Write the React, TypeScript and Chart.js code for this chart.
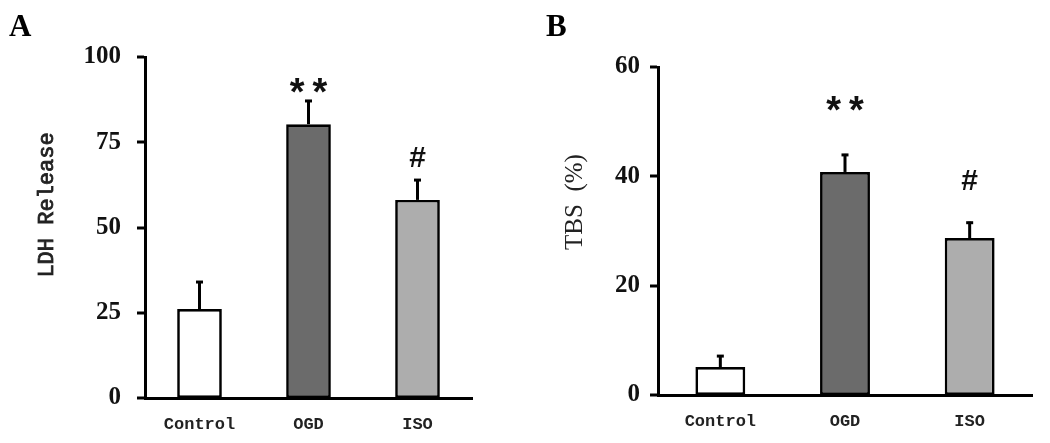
import React, { useEffect, useRef } from "react";
import { Chart, registerables } from "chart.js";
Chart.register(...registerables);

// ---- data ----
const categories = ["Control", "OGD", "ISO"];

const ldhMeans = [26.1, 80.3, 58.1];
const ldhErrors = [8.2, 7.1, 6.1];
const ldhMarks = ["", "**", "#"];
const ldhMarkLevels = [0, 91.7, 70.7];
const ldhTicks = [0, 25, 50, 75, 100];

const tbsMeans = [5.1, 40.8, 28.7];
const tbsErrors = [2.2, 3.3, 3.0];
const tbsMarks = ["", "**", "#"];
const tbsMarkLevels = [0, 53.4, 39.3];
const tbsTicks = [0, 20, 40, 60];

const barColors = ["#ffffff", "#6b6b6b", "#adadad"];

function fillCentered(ctx: CanvasRenderingContext2D, text: string, x: number, y: number) {
  ctx.textAlign = "center";
  ctx.textBaseline = "alphabetic";
  const m = ctx.measureText(text);
  const asc = m.actualBoundingBoxAscent;
  const desc = m.actualBoundingBoxDescent;
  ctx.fillText(text, x, y + (asc - desc) / 2);
}

const decorPlugin = {
  id: "panelDecor",
  afterDatasetsDraw(chart: any, _args: any, opts: any) {
    const ctx = chart.ctx;
    const meta = chart.getDatasetMeta(0);
    const ys = chart.scales.y;
    const ds = chart.data.datasets[0];
    ctx.save();
    // error bars
    ctx.strokeStyle = "#000";
    ctx.lineWidth = 3;
    ctx.lineCap = "butt";
    meta.data.forEach((bar: any, i: number) => {
      const v = ds.data[i] as number;
      const e = opts.errors[i];
      const y0 = ys.getPixelForValue(v);
      const y1 = ys.getPixelForValue(v + e);
      ctx.beginPath();
      ctx.moveTo(bar.x, y0);
      ctx.lineTo(bar.x, y1);
      ctx.stroke();
      ctx.beginPath();
      ctx.moveTo(bar.x - 3.5, y1 + 1);
      ctx.lineTo(bar.x + 3.5, y1 + 1);
      ctx.stroke();
    });
    // significance marks
    ctx.fillStyle = "#111";
    meta.data.forEach((bar: any, i: number) => {
      const m = opts.marks[i];
      if (!m) return;
      const y = ys.getPixelForValue(opts.markLevels[i]);
      if (m === "#") {
        ctx.font = "bold 30px 'Liberation Sans'";
      } else {
        ctx.font = "bold 38px 'Liberation Mono'";
      }
      fillCentered(ctx, m, bar.x, y);
    });
    ctx.restore();
  },
  afterDraw(chart: any, _args: any, opts: any) {
    const ctx = chart.ctx;
    ctx.save();
    // panel letter
    ctx.fillStyle = "#000";
    ctx.textAlign = "left";
    ctx.textBaseline = "alphabetic";
    ctx.font = "bold 31px 'Liberation Serif'";
    ctx.fillText(opts.letter, opts.letterX, opts.letterY);
    // y axis title
    ctx.translate(opts.titleX, opts.titleY);
    ctx.rotate(-Math.PI / 2);
    ctx.textAlign = "center";
    ctx.textBaseline = "middle";
    ctx.fillStyle = "#222";
    ctx.strokeStyle = "#222";
    ctx.lineWidth = opts.titleStroke;
    ctx.font = opts.titleFont;
    ctx.fillText(opts.title, 0, 0);
    if (opts.titleStroke > 0) ctx.strokeText(opts.title, 0, 0);
    ctx.restore();
  },
};

function makeConfig(p: {
  means: number[];
  errors: number[];
  marks: string[];
  markLevels: number[];
  ticks: number[];
  max: number;
  padTop: number;
  padRight: number;
  yWidth: number;
  xHeight: number;
  tickPad: number;
  barPct: number;
  letter: string;
  letterX: number;
  letterY: number;
  title: string;
  titleX: number;
  titleY: number;
  titleFont: string;
  titleStroke: number;
}): any {
  return {
    type: "bar",
    data: {
      labels: categories,
      datasets: [
        {
          data: p.means,
          backgroundColor: barColors,
          borderColor: "#000",
          borderWidth: 2.7,
          borderSkipped: false,
          barPercentage: p.barPct,
          categoryPercentage: 1,
        },
      ],
    },
    plugins: [decorPlugin],
    options: {
      animation: false,
      responsive: false,
      devicePixelRatio: 1,
      layout: { padding: { left: 0, top: p.padTop, right: p.padRight, bottom: 0 } },
      plugins: {
        legend: { display: false },
        tooltip: { enabled: false },
        title: { display: false },
        panelDecor: {
          errors: p.errors,
          marks: p.marks,
          markLevels: p.markLevels,
          letter: p.letter,
          letterX: p.letterX,
          letterY: p.letterY,
          title: p.title,
          titleX: p.titleX,
          titleY: p.titleY,
          titleFont: p.titleFont,
          titleStroke: p.titleStroke,
        },
      },
      scales: {
        x: {
          type: "category",
          grid: { display: false, drawTicks: false },
          border: { display: true, color: "#000", width: 3 },
          ticks: {
            color: "#222",
            font: { family: "'Liberation Mono'", size: 17, weight: "bold" },
            padding: 17,
            maxRotation: 0,
          },
          afterFit: (s: any) => {
            s.height = p.xHeight;
          },
        },
        y: {
          min: 0,
          max: p.max,
          grid: {
            drawOnChartArea: false,
            drawTicks: true,
            tickLength: 8,
            color: "rgba(0,0,0,0)",
            lineWidth: 0,
            tickColor: "#000",
            tickWidth: 3,
          },
          border: { display: true, color: "#000", width: 3 },
          ticks: {
            color: "#111",
            font: { family: "'Liberation Serif'", size: 25, weight: "bold" },
            padding: p.tickPad,
          },
          afterBuildTicks: (s: any) => {
            s.ticks = p.ticks.map((v) => ({ value: v }));
          },
          afterFit: (s: any) => {
            s.width = p.yWidth;
          },
        },
      },
    },
  };
}

export default function App() {
  const refA = useRef<HTMLCanvasElement>(null);
  const refB = useRef<HTMLCanvasElement>(null);

  useEffect(() => {
    const a = new Chart(
      refA.current!,
      makeConfig({
        means: ldhMeans,
        errors: ldhErrors,
        marks: ldhMarks,
        markLevels: ldhMarkLevels,
        ticks: ldhTicks,
        max: 100,
        padTop: 57,
        padRight: 48,
        yWidth: 145,
        xHeight: 45,
        tickPad: 16,
        barPct: 0.41,
        letter: "A",
        letterX: 9,
        letterY: 36,
        title: "LDH Release",
        titleX: 47,
        titleY: 205,
        titleFont: "22px 'Liberation Mono'",
        titleStroke: 0.8,
      })
    );
    const b = new Chart(
      refB.current!,
      makeConfig({
        means: tbsMeans,
        errors: tbsErrors,
        marks: tbsMarks,
        markLevels: tbsMarkLevels,
        ticks: tbsTicks,
        max: 60,
        padTop: 67,
        padRight: 18,
        yWidth: 138,
        xHeight: 48,
        tickPad: 10,
        barPct: 0.4,
        letter: "B",
        letterX: 26,
        letterY: 36,
        title: "TBS\u2002(%)",
        titleX: 55,
        titleY: 202,
        titleFont: "25px 'Liberation Serif'",
        titleStroke: 0,
      })
    );
    return () => {
      a.destroy();
      b.destroy();
    };
  }, []);

  return (
    <div
      style={{
        position: "absolute",
        left: 0,
        top: 0,
        width: 1050,
        height: 443,
        background: "#fff",
      }}
    >
      <canvas
        ref={refA}
        width={520}
        height={443}
        style={{ position: "absolute", left: 0, top: 0, width: 520, height: 443 }}
      />
      <canvas
        ref={refB}
        width={530}
        height={443}
        style={{ position: "absolute", left: 520, top: 0, width: 530, height: 443 }}
      />
    </div>
  );
}
